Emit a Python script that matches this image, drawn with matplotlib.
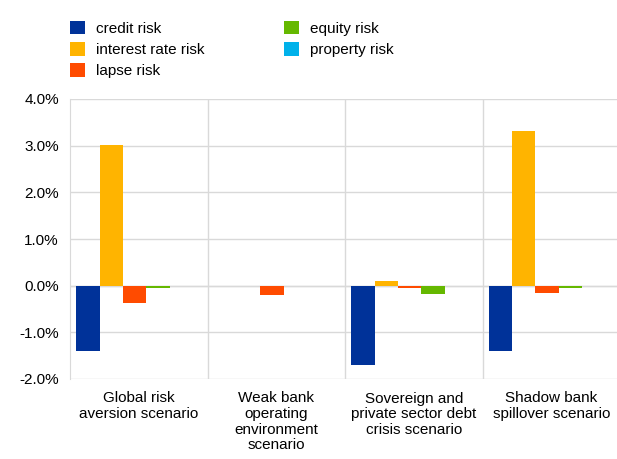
import numpy as np
import matplotlib.pyplot as plt
from matplotlib.ticker import FuncFormatter

categories = ['Global risk\naversion scenario', 'Weak bank\noperating\nenvironment\nscenario',
              'Sovereign and\nprivate sector debt\ncrisis scenario', 'Shadow bank\nspillover scenario']
series = ['credit risk', 'interest rate risk', 'lapse risk', 'equity risk', 'property risk']
colors = ['#003299', '#ffb400', '#ff4b00', '#65b800', '#00b1ea']

credit = [-1.39, -0.01, -1.69, -1.39]
interest = [3.02, 0.0, 0.09, 3.32]
lapse = [-0.37, -0.19, -0.04, -0.16]
equity = [-0.05, 0.0, -0.18, -0.05]
prop = [-0.01, -0.01, -0.01, -0.01]
values = [credit, interest, lapse, equity, prop]

plt.rcParams['font.family'] = ['Liberation Sans', 'DejaVu Sans']
fig = plt.figure(figsize=(6.17, 4.59), dpi=100)
ax = fig.add_axes([70/617, 1-379/459, 550/617, 280/459])

x = np.arange(len(categories))
w = 0.17
for i, (s, v) in enumerate(zip(series, values)):
    ax.bar(x + (i-2)*w - 0.03, v, w, color=colors[i], label=s, zorder=3)

ax.set_xlim(-0.5, 3.5)
ax.set_ylim(-2, 4)
ax.set_yticks(np.arange(-2, 4.1, 1))
ax.yaxis.set_major_formatter(FuncFormatter(lambda v, p: f'{v:.1f}%'))
ax.grid(axis='y', color='#d9d9d9', lw=1, zorder=0)
for b in [0.5, 1.5, 2.5]:
    ax.axvline(b, color='#d9d9d9', lw=1, zorder=0)
ax.axhline(0, color='#d9d9d9', lw=1, zorder=1)
ax.set_xticks(x)
ax.set_xticklabels(categories, fontsize=11, va='top', linespacing=1.15)
ax.tick_params(axis='both', length=0, labelsize=11, colors='black')
ax.tick_params(axis='x', pad=9)
ax.tick_params(axis='y', pad=8)
for sp in ax.spines.values():
    sp.set_visible(False)
ax.spines['left'].set_visible(True)
ax.spines['left'].set_color('#d9d9d9')

h, l = ax.get_legend_handles_labels()
fig.legend(h, l, loc='upper left', bbox_to_anchor=(56/617, 1-7/459), ncol=2, frameon=False,
           fontsize=11, handlelength=1.0, handleheight=1.0, handletextpad=0.7,
           columnspacing=5.2, labelspacing=0.4)

fig.savefig('out.png', dpi=100)
